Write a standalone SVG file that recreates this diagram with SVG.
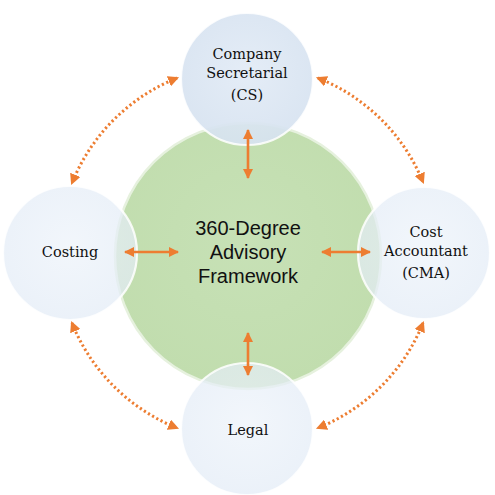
<svg xmlns="http://www.w3.org/2000/svg" width="495" height="495" viewBox="0 0 495 495">
<defs>
<radialGradient id="blue" cx="0.5" cy="0.45" r="0.6">
<stop offset="0" stop-color="#edf3fa"/>
<stop offset="1" stop-color="#e2ebf6"/>
</radialGradient>
<radialGradient id="blue2" cx="0.5" cy="0.45" r="0.6">
<stop offset="0" stop-color="#e2ebf6"/>
<stop offset="1" stop-color="#d6e2f0"/>
</radialGradient>
<radialGradient id="green" cx="0.5" cy="0.45" r="0.55">
<stop offset="0" stop-color="#c7e1b6"/>
<stop offset="1" stop-color="#c1ddae"/>
</radialGradient>
<marker id="ah" viewBox="0 0 10 10" refX="9" refY="5" markerWidth="10" markerHeight="10" markerUnits="userSpaceOnUse" orient="auto-start-reverse">
<path d="M0,0 L10,5 L0,10 z" fill="#ed7d31"/>
</marker>
<marker id="ah2" viewBox="0 0 10 10" refX="8" refY="5" markerWidth="11" markerHeight="11" markerUnits="userSpaceOnUse" orient="auto-start-reverse">
<path d="M0,0 L10,5 L0,10 z" fill="#ed7d31"/>
</marker>
</defs>
<style>
.outer{fill:url(#blue);fill-opacity:0.72;stroke:#ffffff;stroke-opacity:0.85;stroke-width:2.2}
.lbl{font-family:"DejaVu Serif","Liberation Serif",serif;font-size:14.5px;fill:#111;text-anchor:middle}
.ctr{font-family:"Liberation Sans",Arial,sans-serif;font-size:20px;fill:#111;text-anchor:middle}
.solid{stroke:#ed7d31;stroke-width:2.6;fill:none;marker-start:url(#ah);marker-end:url(#ah)}
.dot{stroke:#ed7d31;stroke-width:3;fill:none;stroke-dasharray:2.2 2.6;marker-start:url(#ah2);marker-end:url(#ah2)}
</style>
<rect width="495" height="495" fill="#ffffff"/>
<g id="center">
<circle cx="248" cy="256" r="133" fill="url(#green)" stroke="#e6f1de" stroke-width="2.5"/>
<text class="ctr" x="248" y="235">360-Degree</text>
<text class="ctr" x="248" y="259">Advisory</text>
<text class="ctr" x="248" y="283">Framework</text>
</g>
<g id="cs">
<circle class="outer" cx="247" cy="79" r="66" style="fill:url(#blue2);fill-opacity:0.92"/>
<text class="lbl" x="247" y="59">Company</text>
<text class="lbl" x="247" y="78">Secretarial</text>
<text class="lbl" x="247" y="100">(CS)</text>
</g>
<g id="costing">
<circle class="outer" cx="70" cy="253" r="67"/>
<text class="lbl" x="70" y="257">Costing</text>
</g>
<g id="cma">
<circle class="outer" cx="424" cy="253" r="66"/>
<text class="lbl" x="426" y="237">Cost</text>
<text class="lbl" x="426" y="256">Accountant</text>
<text class="lbl" x="426" y="278">(CMA)</text>
</g>
<g id="legal">
<circle class="outer" cx="247" cy="429" r="66"/>
<text class="lbl" x="248" y="435">Legal</text>
</g>
<g id="connectors">
<line class="solid" x1="248" y1="130" x2="248" y2="178"/>
<line class="solid" x1="248" y1="333" x2="248" y2="375"/>
<line class="solid" x1="125" y1="252" x2="178" y2="252"/>
<line class="solid" x1="322" y1="252" x2="370" y2="252"/>
<path class="dot" d="M318,78 A189,189 0 0 1 423,182"/>
<path class="dot" d="M177,78 A189,189 0 0 0 72,183"/>
<path class="dot" d="M72,323 A189,189 0 0 0 177,428"/>
<path class="dot" d="M423,323 A189,189 0 0 1 318,428"/>
</g>
</svg>
